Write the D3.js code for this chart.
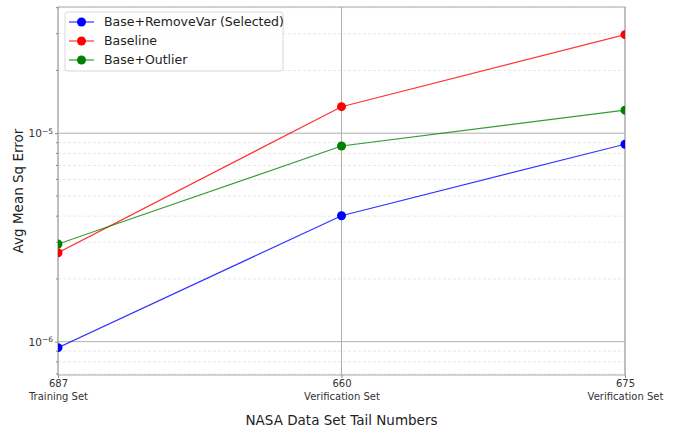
<!DOCTYPE html>
<html lang="en">
<head>
<meta charset="UTF-8">
<title>Avg Mean Sq Error by tail number</title>
<script src="https://d3js.org/d3.v7.min.js"></script>
<style>
  body { margin: 0; background: #fff; font-family: "DejaVu Sans", "Bitstream Vera Sans", Verdana, sans-serif; }
  svg text { font-family: "DejaVu Sans", "Bitstream Vera Sans", Verdana, sans-serif; }
</style>
</head>
<body>
<div id="chart"></div>
<script>
// tail numbers along the x axis, with the set each belongs to
const tailNumbers = ["687", "660", "675"];
const setNames = ["Training Set", "Verification Set", "Verification Set"];

// series
const seriesNames = ["Base+RemoveVar (Selected)", "Baseline", "Base+Outlier"];
const seriesColors = ["#0000ff", "#ff0000", "#008000"];
const removeVar = [9.36e-7, 4.02e-6, 8.85e-6];
const baseline = [2.67e-6, 1.34e-5, 2.97e-5];
const outlier = [2.94e-6, 8.68e-6, 1.29e-5];

const yDomain = [6.92e-7, 4.03e-5];
const yMajor = [1e-6, 1e-5];

const width = 677, height = 432;
const margin = {top: 7, right: 52, bottom: 57, left: 58};

const svg = d3.select("#chart").append("svg")
    .attr("width", width)
    .attr("height", height)
    .attr("font-family", "DejaVu Sans, sans-serif");

const x = d3.scalePoint()
    .domain(tailNumbers)
    .range([margin.left, width - margin.right]);

const y = d3.scaleLog()
    .domain(yDomain)
    .range([height - margin.bottom, margin.top]);

// minor ticks: 2..9 of each decade inside the domain
const yMinor = [];
for (let e = -7; e <= -4; e++) {
    for (let m = 2; m <= 9; m++) {
        const v = m * Math.pow(10, e);
        if (v > yDomain[0] && v < yDomain[1]) yMinor.push(v);
    }
}

const plot = svg.append("g");

// minor grid (dashed)
plot.append("g")
    .selectAll("line")
    .data(yMinor)
    .join("line")
    .attr("x1", margin.left).attr("x2", width - margin.right)
    .attr("y1", d => y(d)).attr("y2", d => y(d))
    .attr("stroke", "#e2e2e2")
    .attr("stroke-width", 0.8)
    .attr("stroke-dasharray", "3,2");

// major grid
plot.append("g")
    .selectAll("line")
    .data(yMajor)
    .join("line")
    .attr("x1", margin.left).attr("x2", width - margin.right)
    .attr("y1", d => y(d)).attr("y2", d => y(d))
    .attr("stroke", "#b0b0b0")
    .attr("stroke-width", 1);

plot.append("g")
    .selectAll("line")
    .data(tailNumbers)
    .join("line")
    .attr("x1", d => x(d)).attr("x2", d => x(d))
    .attr("y1", margin.top).attr("y2", height - margin.bottom)
    .attr("stroke", "#b0b0b0")
    .attr("stroke-width", 1);

// frame
svg.append("rect")
    .attr("x", margin.left).attr("y", margin.top)
    .attr("width", width - margin.left - margin.right)
    .attr("height", height - margin.top - margin.bottom)
    .attr("fill", "none")
    .attr("stroke", "#a8a8a8")
    .attr("stroke-width", 1);

// x axis
const xAxis = svg.append("g")
    .attr("transform", `translate(0,${height - margin.bottom})`)
    .call(d3.axisBottom(x).tickSize(3).tickFormat(""));
xAxis.select(".domain").remove();
xAxis.selectAll(".tick line").attr("stroke", "#888");
xAxis.selectAll(".tick").each(function (d, i) {
    const t = d3.select(this).append("text")
        .attr("fill", "#333")
        .attr("font-size", 10)
        .attr("text-anchor", "middle");
    t.append("tspan").attr("x", 0).attr("y", 12).text(d);
    t.append("tspan").attr("x", 0).attr("y", 25).text(setNames[i]);
});

// y axis
const yAxis = svg.append("g")
    .attr("transform", `translate(${margin.left},0)`)
    .call(d3.axisLeft(y).tickValues(yMajor).tickSize(3).tickFormat(""));
yAxis.select(".domain").remove();
yAxis.selectAll(".tick line").attr("stroke", "#888");
yAxis.selectAll(".tick").append("text")
    .attr("fill", "#333")
    .attr("font-size", 10.5)
    .attr("x", -5)
    .attr("dy", "0.35em")
    .attr("text-anchor", "end")
    .each(function (d) {
        const t = d3.select(this);
        t.append("tspan").text("10");
        t.append("tspan").attr("dy", "-0.45em").attr("font-size", 7.5).text("\u2212" + Math.round(-Math.log10(d)));
    });
svg.append("g").selectAll("line")
    .data(yMinor)
    .join("line")
    .attr("x1", margin.left - 2).attr("x2", margin.left)
    .attr("y1", d => y(d)).attr("y2", d => y(d))
    .attr("stroke", "#888");

// axis labels
svg.append("text")
    .attr("x", (margin.left + width - margin.right) / 2)
    .attr("y", 425)
    .attr("text-anchor", "middle")
    .attr("font-size", 13.5)
    .attr("fill", "#222")
    .text("NASA Data Set Tail Numbers");

svg.append("text")
    .attr("transform", `translate(23,${(margin.top + height - margin.bottom) / 2}) rotate(-90)`)
    .attr("text-anchor", "middle")
    .attr("font-size", 13.5)
    .attr("fill", "#222")
    .text("Avg Mean Sq Error");

// lines and markers, clipped to the plot area
svg.append("clipPath").attr("id", "clip")
    .append("rect")
    .attr("x", margin.left).attr("y", margin.top)
    .attr("width", width - margin.left - margin.right)
    .attr("height", height - margin.top - margin.bottom);

const series = [removeVar, baseline, outlier];
const line = d3.line()
    .x((d, i) => x(tailNumbers[i]))
    .y(d => y(d));

const marks = svg.append("g").attr("clip-path", "url(#clip)");
series.forEach((s, k) => {
    marks.append("path")
        .attr("d", line(s))
        .attr("fill", "none")
        .attr("stroke", seriesColors[k])
        .attr("stroke-opacity", 0.8)
        .attr("stroke-width", 1.2);
    marks.append("g")
        .selectAll("circle")
        .data(s)
        .join("circle")
        .attr("cx", (d, i) => x(tailNumbers[i]))
        .attr("cy", d => y(d))
        .attr("r", 4.5)
        .attr("fill", seriesColors[k]);
});

// legend
const legend = svg.append("g").attr("transform", "translate(65,12)");
legend.append("rect")
    .attr("width", 218).attr("height", 59)
    .attr("rx", 3)
    .attr("fill", "#fff")
    .attr("fill-opacity", 0.8)
    .attr("stroke", "#d8d8d8");
seriesNames.forEach((name, k) => {
    const row = legend.append("g").attr("transform", `translate(0,${10 + k * 19})`);
    row.append("line")
        .attr("x1", 4).attr("x2", 29)
        .attr("stroke", seriesColors[k])
        .attr("stroke-opacity", 0.8)
        .attr("stroke-width", 1.2);
    row.append("circle")
        .attr("cx", 16.5).attr("r", 4.5)
        .attr("fill", seriesColors[k]);
    row.append("text")
        .attr("x", 39)
        .attr("dy", "0.35em")
        .attr("font-size", 12.5)
        .attr("fill", "#222")
        .text(name);
});
</script>
</body>
</html>
